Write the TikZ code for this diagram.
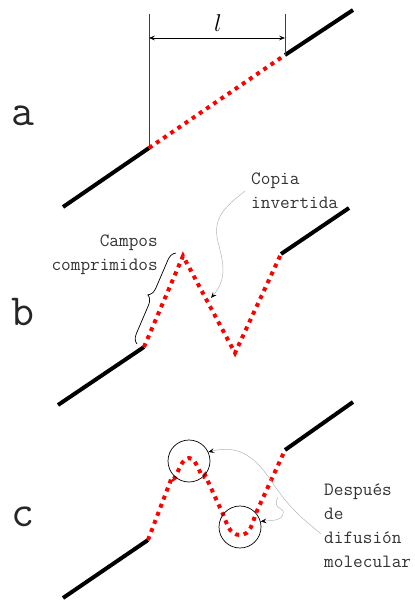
\documentclass[tikz,border=0pt]{standalone}
\usepackage{tikz}
\usetikzlibrary{decorations.pathreplacing, arrows.meta, positioning}

\begin{document}
\begin{tikzpicture}[x=0.03cm, y=-0.03cm,
  strand/.style={line width=3.4pt},
  melt/.style={red, line width=3.4pt, dash pattern=on 3.4pt off 4pt},
  thin/.style={line width=0.6pt, black!75},
  lead/.style={line width=0.4pt, black!30, -{Stealth[length=5pt,width=4pt,inset=2pt,black]}},
  txt/.style={font=\fontsize{16}{20.4}\selectfont\ttfamily, text=black!80, inner sep=0pt},
  panel/.style={font=\fontsize{38}{40}\selectfont\ttfamily, text=black!85, inner sep=0pt, anchor=base},
  ring/.style={circle, draw, line width=0.6pt, minimum size=42*0.03cm, inner sep=0pt}]
\useasboundingbox (0,0) rectangle (414,601);
% panel a
\node (pa) at (23,126) [panel] {a};
\coordinate (a0) at (63,207);
\coordinate (a1) at (149,148);
\coordinate (a2) at (285,55);
\coordinate (a3) at (353,10);
\coordinate (t1) at (149,14);
\coordinate (t2) at (285,14);
\coordinate (d1) at (149,38);
\coordinate (d2) at (285,38);
\draw [strand] (a0) -- (a1);
\draw [melt] (a1) -- (a2);
\draw [strand] (a2) -- (a3);
\draw [thin] (t1) -- (a1);
\draw [thin] (t2) -- (a2);
\draw [thin, black, {Stealth[length=5pt,width=4pt,inset=2pt]}-{Stealth[length=5pt,width=4pt,inset=2pt]}] (d1) -- (d2);
\node (len) at (218,23) [font=\fontsize{20}{22}\selectfont] {$l$};
% panel b
\node (pb) at (23,325) [panel] {b};
\coordinate (b0) at (58,405);
\coordinate (b1) at (144,347);
\coordinate (b2) at (183,256);
\coordinate (b3) at (235,353);
\coordinate (b4) at (281,254);
\coordinate (b5) at (349,208);
\draw [strand] (b0) -- (b1);
\draw [melt] (b1) -- (b2) -- (b3) -- (b4);
\draw [strand] (b4) -- (b5);
\coordinate (br0) at (137,344);
\coordinate (br1) at (176,253);
\draw [line width=0.6pt, decorate, decoration={brace, amplitude=8pt}] (br0) -- (br1);
\node (campos) at (158,255) [txt, anchor=east, align=right] {Campos\\comprimidos};
\node (copia) at (251,191) [txt, anchor=west, align=left] {Copia\\invertida};
\coordinate (inv) at (211,298);
\draw [lead] ([xshift=-6*0.03cm]copia.west) .. controls (225,207) and (212,218) .. (218,242) .. controls (223,262) and (228,278) .. (inv);
% panel c
\node (pc) at (23,526) [panel] {c};
\coordinate (c0) at (63,598);
\coordinate (c1) at (148,540);
\coordinate (c2) at (285,450);
\coordinate (c3) at (353,402);
\draw [strand] (c0) -- (c1);
\draw [melt] (c1) -- (172,477) to[out=-70,in=180] (189,458) to[out=0,in=-115] (205,475)
  -- (222,512) to[out=-65,in=180] (240,535) to[out=0,in=-110] (256,513) -- (c2);
\draw [strand] (c2) -- (c3);
\node (top) at (189,461) [ring] {};
\node (low) at (240,527) [ring] {};
\node (desp) at (324,526) [txt, anchor=west, align=left] {Después\\de\\difusión\\molecular};
\coordinate (fork) at (278,497);
\draw [lead] ([xshift=-3*0.03cm, yshift=-8*0.03cm]desp.west) .. controls (305,520) and (292,512) .. (272,482) .. controls (256,458) and (240,444) .. (top.25);
\draw [lead] (fork) .. controls (271,510) and (286,507) .. (283,514) .. controls (281,521) and (274,520) .. (low.15);
\end{tikzpicture}
\end{document}
